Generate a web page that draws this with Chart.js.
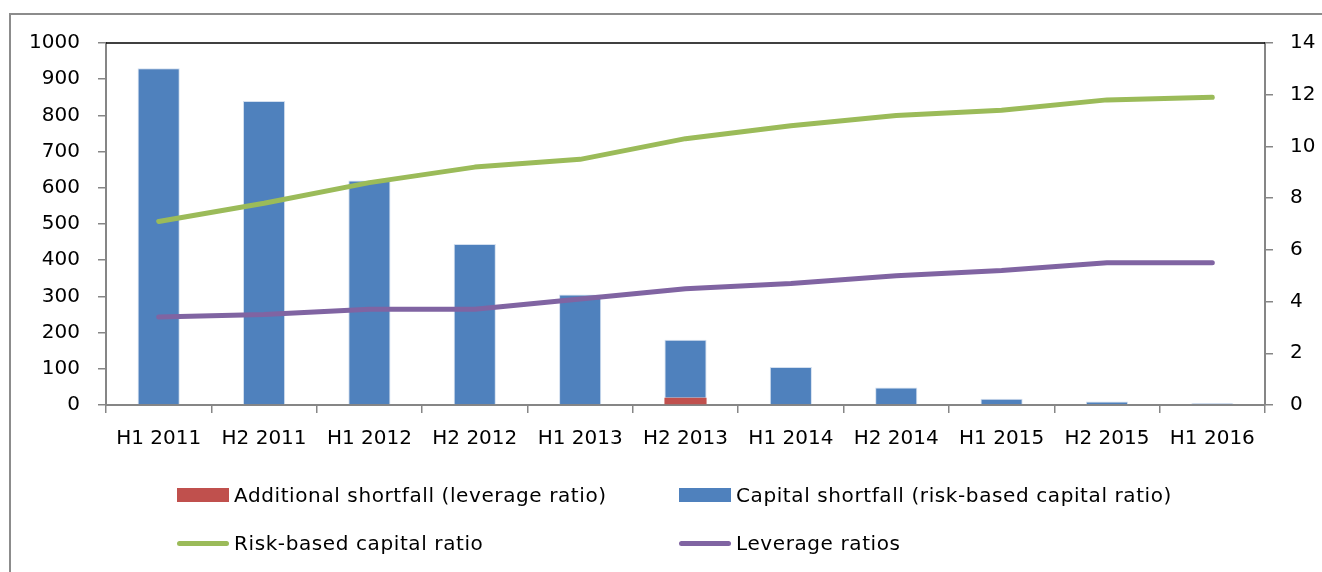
<!DOCTYPE html>
<html>
<head>
<meta charset="utf-8">
<script src="https://cdn.jsdelivr.net/npm/chart.js@4"></script>
<style>
    html, body { margin: 0; padding: 0; background: #fff; overflow: hidden; width: 1322px; height: 572px; }
    #marco { position: absolute; left: 9px; top: 13px; width: 1400px; height: 700px; border-left: 2px solid #8c8c8c; border-top: 2px solid #8c8c8c; }
    #grafico { position: absolute; left: 0; top: 0; }
    .item { position: absolute; height: 28px; display: flex; align-items: center; font-family: "DejaVu Sans", sans-serif; font-size: 20px; letter-spacing: 0.6px; color: #000; white-space: nowrap; }
    .muestra { width: 52px; margin-right: 5px; flex: none; }
</style>
</head>
<body>
<div id="marco"></div>
<canvas id="grafico" width="1322" height="572"></canvas>
<div id="leyenda"></div>

<script>
// Periodos semestrales del eje X
const periodos = ["H1 2011", "H2 2011", "H1 2012", "H2 2012", "H1 2013", "H2 2013", "H1 2014", "H2 2014", "H1 2015", "H2 2015", "H1 2016"];

// Déficit de capital (eje izquierdo)
const deficitAdicional = [0, 0, 0, 0, 0, 20, 0, 0, 0, 0, 0];
const deficitCapital = [930, 840, 620, 445, 305, 160, 105, 48, 17, 10, 5];

// Ratios (eje derecho)
const ratioCapital = [7.1, 7.8, 8.6, 9.2, 9.5, 10.3, 10.8, 11.2, 11.4, 11.8, 11.9];
const ratioApalancamiento = [3.4, 3.5, 3.7, 3.7, 4.1, 4.5, 4.7, 5.0, 5.2, 5.5, 5.5];

const gris = "#868686";
const fuente = { family: "'DejaVu Sans', sans-serif", size: 20 };

// Línea negra en el borde superior del área de trazado
const bordeSuperior = {
    id: "bordeSuperior",
    beforeDatasetsDraw(chart) {
        const { ctx, chartArea } = chart;
        ctx.save();
        ctx.strokeStyle = "#000";
        ctx.lineWidth = 1.5;
        ctx.beginPath();
        ctx.moveTo(chartArea.left, chartArea.top);
        ctx.lineTo(chartArea.right, chartArea.top);
        ctx.stroke();
        ctx.restore();
    }
};

// Eje vertical sin separador de miles
const ejeY = (posicion, max, paso, ancho, pad) => ({
    position: posicion,
    min: 0,
    max: max,
    ticks: { stepSize: paso, color: "#000", font: fuente, padding: pad, callback: v => String(v) },
    grid: { drawOnChartArea: false, tickLength: 8, color: gris, lineWidth: 1.5 },
    border: { color: gris, width: 2 },
    afterFit: s => { s.width = ancho; }
});

const ctx = document.getElementById("grafico").getContext("2d");
const grafico = new Chart(ctx, {
    data: {
        labels: periodos,
        datasets: [
            {
                type: "bar",
                label: "Additional shortfall (leverage ratio)",
                data: deficitAdicional,
                backgroundColor: "#C0504D",
                yAxisID: "y",
                order: 2
            },
            {
                type: "bar",
                label: "Capital shortfall (risk-based capital ratio)",
                data: deficitCapital,
                backgroundColor: "#4F81BD",
                borderColor: "rgba(200, 215, 235, 0.8)",
                borderWidth: 1,
                borderSkipped: "bottom",
                yAxisID: "y",
                order: 2
            },
            {
                type: "line",
                label: "Risk-based capital ratio",
                data: ratioCapital,
                borderColor: "#9BBB59",
                backgroundColor: "#9BBB59",
                borderWidth: 5,
                borderCapStyle: "round",
                borderJoinStyle: "round",
                pointRadius: 0,
                tension: 0,
                yAxisID: "y1",
                order: 1
            },
            {
                type: "line",
                label: "Leverage ratios",
                data: ratioApalancamiento,
                borderColor: "#8064A2",
                backgroundColor: "#8064A2",
                borderWidth: 5,
                borderCapStyle: "round",
                borderJoinStyle: "round",
                pointRadius: 0,
                tension: 0,
                yAxisID: "y1",
                order: 0
            }
        ]
    },
    options: {
        responsive: false,
        animation: false,
        devicePixelRatio: 1,
        layout: { padding: { top: 43, bottom: 107, left: 0, right: 0 } },
        datasets: { bar: { barPercentage: 0.4, categoryPercentage: 1 } },
        plugins: { legend: { display: false }, tooltip: { enabled: false } },
        scales: {
            x: {
                stacked: true,
                ticks: { color: "#000", font: fuente, padding: 14, maxRotation: 0, autoSkip: false },
                grid: { offset: true, drawOnChartArea: false, tickLength: 8, color: gris, lineWidth: 1.5 },
                border: { color: gris, width: 2 },
                afterFit: s => { s.height = 60; }
            },
            y: Object.assign(ejeY("left", 1000, 100, 106, 18), { stacked: true }),
            y1: ejeY("right", 14, 2, 57, 17)
        }
    },
    plugins: [bordeSuperior]
});

// Leyenda en dos columnas construida a partir de los datasets
const leyenda = document.getElementById("leyenda");
const columnas = [177, 679];
const filas = [495, 543];
grafico.data.datasets.forEach((d, i) => {
    const item = document.createElement("div");
    item.className = "item";
    item.style.left = columnas[i % 2] + "px";
    item.style.top = (filas[Math.floor(i / 2)] - 14) + "px";
    const muestra = document.createElement("span");
    muestra.className = "muestra";
    if (d.type === "bar") {
        muestra.style.height = "14px";
        muestra.style.background = d.backgroundColor;
    } else {
        muestra.style.height = "5px";
        muestra.style.borderRadius = "3px";
        muestra.style.background = d.borderColor;
    }
    const texto = document.createElement("span");
    texto.textContent = d.label;
    item.appendChild(muestra);
    item.appendChild(texto);
    leyenda.appendChild(item);
});
</script>
</body>
</html>
